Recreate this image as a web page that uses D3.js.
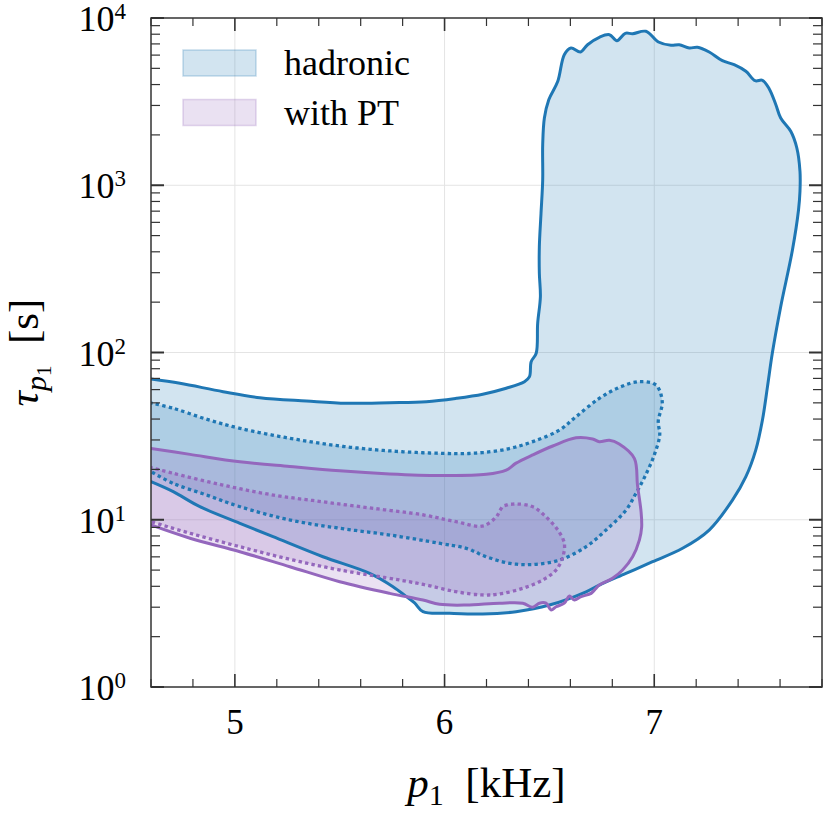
<!DOCTYPE html>
<html>
<head>
<meta charset="utf-8">
<script src="https://cdn.jsdelivr.net/npm/d3@7"></script>
<style>
  body { margin: 0; background: #fff; }
  text { font-family: "Liberation Serif", "DejaVu Serif", serif; fill: #000; }
</style>
</head>
<body>
<svg id="chart" width="830" height="815"></svg>
<script>

//============================================================
// Data  (p1 [kHz], tau [s])
//------------------------------------------------------------

var xTicks = [5, 6, 7];
var yTicks = [1, 10, 100, 1000, 10000];
var seriesNames = ['hadronic', 'with PT'];

// hadronic, outer contour (solid)
var hadronicOuter = [
  [4.600, 69.4], [4.738, 65.4], [4.944, 58.3], [5.119, 53.7], [5.341, 51.3],
  [5.532, 49.7], [5.738, 50.1], [5.913, 50.8], [6.056, 53.2], [6.182, 56.3],
  [6.294, 61.1], [6.381, 66.9], [6.405, 71.7], [6.413, 88.1], [6.437, 98.9],
  [6.444, 149.5], [6.457, 215.6], [6.452, 297.5], [6.452, 429.2], [6.460, 679.7],
  [6.468, 1075], [6.468, 1747], [6.476, 2524], [6.497, 3248], [6.540, 4183],
  [6.571, 6035], [6.603, 6617], [6.648, 6262], [6.682, 6923], [6.738, 7665],
  [6.786, 7946], [6.822, 7316], [6.862, 8099], [6.897, 8055], [6.960, 8326],
  [7.020, 7187], [7.080, 6867], [7.119, 6923], [7.167, 6617], [7.206, 6681],
  [7.262, 6262], [7.325, 5556], [7.381, 5258], [7.437, 4801], [7.481, 4218],
  [7.516, 4241], [7.548, 3778], [7.580, 3030], [7.603, 2524], [7.651, 2102],
  [7.680, 1670], [7.695, 1212], [7.695, 920], [7.688, 711], [7.659, 410],
  [7.603, 187.9], [7.563, 98.9], [7.540, 62.5], [7.516, 39.5], [7.484, 26.1],
  [7.437, 18.1], [7.373, 13.1], [7.262, 8.68], [7.135, 6.75], [6.992, 5.61],
  [6.865, 4.78], [6.738, 4.07], [6.675, 3.71], [6.500, 3.09], [6.341, 2.82],
  [6.182, 2.73], [6.024, 2.76], [5.897, 2.82], [5.857, 3.18], [5.818, 3.47],
  [5.754, 3.98], [5.643, 4.78], [5.420, 6.01], [5.182, 7.92], [5.024, 9.52],
  [4.833, 11.97], [4.706, 14.72], [4.600, 16.89]
];

// hadronic, inner contour (dotted)
var hadronicInner = [
  [4.600, 49.9], [4.706, 46.4], [4.865, 39.9], [5.024, 35.2], [5.262, 30.7],
  [5.500, 27.6], [5.738, 25.8], [5.976, 24.97], [6.135, 24.97], [6.294, 26.4],
  [6.420, 29.3], [6.548, 34.4], [6.627, 41.3], [6.738, 53.2], [6.833, 61.8],
  [6.925, 66.9], [7.008, 63.9], [7.038, 50.8], [7.019, 38.7], [7.026, 32.1],
  [7.000, 24.4], [6.957, 18.3], [6.913, 14.4], [6.865, 11.4], [6.770, 8.68],
  [6.675, 6.90], [6.548, 5.74], [6.420, 5.40], [6.310, 5.49], [6.199, 6.01],
  [6.103, 6.75], [5.976, 7.23], [5.738, 8.11], [5.500, 8.89], [5.262, 9.97],
  [5.024, 11.97], [4.865, 14.06], [4.706, 16.5], [4.600, 19.4]
];

// with PT, outer contour (solid)
var ptOuter = [
  [4.600, 26.7], [4.786, 24.6], [5.024, 22.2], [5.262, 20.8], [5.500, 19.6],
  [5.738, 18.8], [5.976, 18.4], [6.199, 18.7], [6.294, 19.8], [6.341, 21.8],
  [6.420, 24.4], [6.516, 27.6], [6.627, 30.9], [6.706, 30.4], [6.738, 29.3],
  [6.786, 29.9], [6.833, 28.4], [6.905, 23.3], [6.920, 16.1], [6.937, 11.2],
  [6.940, 9.05], [6.929, 7.56], [6.897, 6.01], [6.849, 5.01], [6.801, 4.47],
  [6.738, 4.07], [6.722, 3.89], [6.699, 3.63], [6.651, 3.47], [6.619, 3.31],
  [6.595, 3.50], [6.571, 3.17], [6.532, 3.02], [6.508, 2.89], [6.484, 3.17],
  [6.452, 3.17], [6.420, 3.00], [6.373, 3.17], [6.262, 3.17], [6.103, 3.09],
  [5.976, 3.12], [5.897, 3.31], [5.738, 3.63], [5.500, 4.26], [5.262, 5.24],
  [5.024, 6.44], [4.786, 7.75], [4.600, 9.30]
];

// with PT, inner contour (dotted)
var ptInner = [
  [4.600, 20.5], [4.706, 18.95], [4.944, 16.1], [5.182, 14.06], [5.420, 12.8],
  [5.659, 11.7], [5.897, 10.7], [6.056, 9.73], [6.182, 9.18], [6.246, 10.4],
  [6.278, 11.97], [6.325, 12.4], [6.420, 11.97], [6.484, 10.4], [6.540, 8.68],
  [6.571, 7.23], [6.564, 6.01], [6.532, 5.01], [6.468, 4.36], [6.373, 3.89],
  [6.262, 3.60], [6.182, 3.55], [6.056, 3.71], [5.913, 4.07], [5.786, 4.36],
  [5.500, 5.01], [5.262, 5.80], [5.024, 6.90], [4.786, 8.30], [4.600, 9.73]
];

//============================================================
// Settings
//------------------------------------------------------------

var margin = {top: 18, right: 8, bottom: 128, left: 151}
  , width = 830 - margin.left - margin.right
  , height = 815 - margin.top - margin.bottom
  , blue = '#1f77b4'
  , purple = '#9467bd'
  , fillAlpha = 0.2
  ;

var svg = d3.select('#chart');
var g = svg.append('g').attr('transform', 'translate(' + margin.left + ',' + margin.top + ')');

var x = d3.scaleLinear().domain([4.6, 7.8]).range([0, width]);
var y = d3.scaleLog().domain([1, 1e4]).range([height, 0]);

svg.append('defs').append('clipPath').attr('id', 'plotclip')
  .append('rect').attr('width', width).attr('height', height);

//------------------------------------------------------------
// grid

g.append('g').selectAll('line.gx').data(xTicks).enter().append('line')
    .attr('x1', function (d) { return x(d); })
    .attr('x2', function (d) { return x(d); })
    .attr('y1', 0).attr('y2', height)
    .attr('stroke', '#e4e4e4').attr('stroke-width', 1);
g.append('g').selectAll('line.gy').data(yTicks.slice(1, -1)).enter().append('line')
    .attr('y1', function (d) { return y(d); })
    .attr('y2', function (d) { return y(d); })
    .attr('x1', 0).attr('x2', width)
    .attr('stroke', '#e4e4e4').attr('stroke-width', 1);

//------------------------------------------------------------
// contours

var line = d3.line()
    .x(function (d) { return x(d[0]); })
    .y(function (d) { return y(d[1]); })
    .curve(d3.curveCatmullRom.alpha(0.5));

var contours = [
  {data: hadronicOuter, color: blue, dash: null},
  {data: hadronicInner, color: blue, dash: '0.1,6.5'},
  {data: ptOuter, color: purple, dash: null},
  {data: ptInner, color: purple, dash: '0.1,6.5'}
];

var cg = g.append('g').attr('clip-path', 'url(#plotclip)');

contours.forEach(function (c) {
  cg.append('path')
      .attr('d', line(c.data) + 'Z')
      .attr('fill', c.color)
      .attr('fill-opacity', fillAlpha)
      .attr('stroke', 'none');
});
contours.forEach(function (c) {
  cg.append('path')
      .attr('d', line(c.data))
      .attr('fill', 'none')
      .attr('stroke', c.color)
      .attr('stroke-width', c.dash ? 3.3 : 3)
      .attr('stroke-linecap', c.dash ? 'square' : 'round')
      .attr('stroke-linejoin', 'round')
      .attr('stroke-dasharray', c.dash);
});

//------------------------------------------------------------
// ticks (inside, all four sides)

var xMinor = d3.range(4.6, 7.81, 0.2).map(function (v) { return +v.toFixed(1); });
var isMajorX = function (v) { return Math.abs(v - Math.round(v)) < 1e-6; };
var tg = g.append('g').attr('stroke', '#333');

tg.selectAll('line.xb').data(xMinor).enter().append('line')
    .attr('x1', function (d) { return x(d); }).attr('x2', function (d) { return x(d); })
    .attr('y1', height).attr('y2', function (d) { return height - (isMajorX(d) ? 13 : 8); })
    .attr('stroke-width', function (d) { return isMajorX(d) ? 1.6 : 1.2; });
tg.selectAll('line.xt').data(xMinor).enter().append('line')
    .attr('x1', function (d) { return x(d); }).attr('x2', function (d) { return x(d); })
    .attr('y1', 0).attr('y2', function (d) { return isMajorX(d) ? 13 : 8; })
    .attr('stroke-width', function (d) { return isMajorX(d) ? 1.6 : 1.2; });

var yMinor = [];
[1, 10, 100, 1000].forEach(function (dec) {
  for (var k = 1; k <= 9; k++) { yMinor.push({v: k * dec, major: k === 1}); }
});
yMinor.push({v: 1e4, major: true});

tg.selectAll('line.yl').data(yMinor).enter().append('line')
    .attr('y1', function (d) { return y(d.v); }).attr('y2', function (d) { return y(d.v); })
    .attr('x1', 0).attr('x2', function (d) { return d.major ? 13 : 9; })
    .attr('stroke-width', function (d) { return d.major ? 2 : 1.2; });
tg.selectAll('line.yr').data(yMinor).enter().append('line')
    .attr('y1', function (d) { return y(d.v); }).attr('y2', function (d) { return y(d.v); })
    .attr('x1', width).attr('x2', function (d) { return width - (d.major ? 13 : 9); })
    .attr('stroke-width', function (d) { return d.major ? 2 : 1.2; });

// frame
g.append('rect')
    .attr('width', width).attr('height', height)
    .attr('fill', 'none').attr('stroke', '#333').attr('stroke-width', 1.5);

//------------------------------------------------------------
// tick labels

g.selectAll('text.xl').data(xTicks).enter().append('text')
    .attr('x', function (d) { return x(d); })
    .attr('y', height + 47)
    .attr('text-anchor', 'middle')
    .style('font-size', '35px')
    .text(function (d) { return d; });

var yl = g.selectAll('text.yl').data(yTicks).enter().append('text')
    .attr('x', -25)
    .attr('y', function (d) { return y(d) + 13; })
    .attr('text-anchor', 'end')
    .style('font-size', '36px');
yl.append('tspan').text('10');
yl.append('tspan')
    .attr('dy', -12)
    .style('font-size', '23px')
    .text(function (d) { return Math.round(Math.log10(d)); });

//------------------------------------------------------------
// axis titles

var xt = svg.append('text')
    .attr('x', margin.left + width / 2)
    .attr('y', 797)
    .attr('text-anchor', 'middle')
    .style('font-size', '43px');
xt.append('tspan').style('font-style', 'italic').text('p');
xt.append('tspan').attr('dy', 8).style('font-size', '30px').text('1');
xt.append('tspan').attr('dy', -8).text('\u2002[kHz]');

var ytl = svg.append('text')
    .attr('transform', 'translate(38,' + (margin.top + height / 2) + ') rotate(-90)')
    .attr('text-anchor', 'middle')
    .style('font-size', '43px');
ytl.append('tspan').style('font-style', 'italic').text('\u03c4');
ytl.append('tspan').attr('dy', 8).style('font-size', '30px').style('font-style', 'italic').text('p');
ytl.append('tspan').attr('dy', 5).style('font-size', '21px').text('1');
ytl.append('tspan').attr('dy', -13).text('\u2002[s]');

//------------------------------------------------------------
// legend

var legend = g.append('g').attr('transform', 'translate(32,32)');
var legendColors = [blue, purple];
var li = legend.selectAll('g.entry').data(seriesNames).enter().append('g')
    .attr('transform', function (d, i) { return 'translate(0,' + (i * 49.5) + ')'; });
li.append('rect')
    .attr('width', 73).attr('height', 26)
    .attr('fill', function (d, i) { return legendColors[i]; })
    .attr('fill-opacity', fillAlpha)
    .attr('stroke', function (d, i) { return legendColors[i]; })
    .attr('stroke-opacity', 0.25)
    .attr('stroke-width', 1.5);
li.append('text')
    .attr('x', 101)
    .attr('y', 25)
    .style('font-size', '36px')
    .text(function (d) { return d; });

</script>
</body>
</html>
